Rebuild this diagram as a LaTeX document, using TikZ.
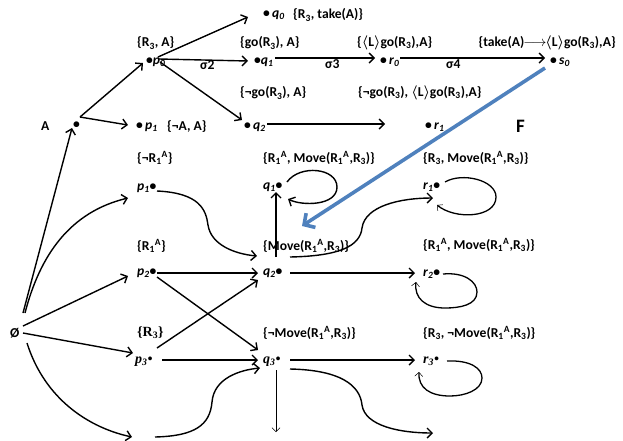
\documentclass[tikz,border=0pt]{standalone}
\usepackage{fontspec}
\setmainfont{Carlito}
\newfontfamily\serifb{Liberation Serif}
\usetikzlibrary{arrows.meta}
\newcommand\Lm{$\langle$L$\rangle$}
\newcommand\RA{R\textsubscript{1}\textsuperscript{A}}
\newcommand\Rt{R\textsubscript{3}}
\newcommand\sub[2]{\textit{#1}\textsubscript{\textit{#2}}}
\definecolor{ofblue}{RGB}{79,129,189}
\begin{document}
\begin{tikzpicture}[x=1pt,y=-1pt,
  txt/.style={anchor=west,inner sep=0pt,font=\fontsize{13.6}{16}\selectfont\bfseries\mathversion{bold}},
  arr/.style={line width=1.4pt,-{Straight Barb[length=5pt,width=10pt,line width=1.4pt]}},
  thinarr/.style={line width=0.5pt,-{Straight Barb[length=4pt,width=8pt,line width=0.5pt]}},
  loopthin/.style={line width=1.3pt,-{Straight Barb[length=4pt,width=8pt,line width=0.5pt]}},
  bluearr/.style={ofblue,line width=3.6pt,-{Straight Barb[length=8pt,width=17pt,line width=3.6pt]}}
]
\useasboundingbox (0,0) rectangle (623,440);

% ---------- top part ----------
\node[txt] (tq0) at (263,15) {•\,\sub{q}{0}};
\node[txt] (lq0) at (293,15) {\{\Rt, take(A)\}};
\node[txt] (lp0) at (137,43) {\{\Rt, A\}};
\node[txt] (tp0) at (146,62) {•\sub{p}{0}};
\node[txt] (sig2) at (200,65) {σ2};
\node[txt] (tq1) at (254,62) {•\sub{q}{1}};
\node[txt] (lq1) at (240,43) {\{go(\Rt), A\}};
\node[txt] (sig3) at (325,64) {σ3};
\node[txt] (tr0) at (380,62) {•\,\sub{r}{0}};
\node[txt] (lr0) at (357,43) {\{\Lm go(\Rt),A\}};
\node[txt] (sig4) at (446,64) {σ4};
\node[txt] (ts0) at (550,62) {•\,\sub{s}{0}};
\node[txt,anchor=east] (ls0) at (616,43) {\{take(A)\hspace{-1pt}$\mathversion{normal}\longrightarrow$\hspace{-1pt}\Lm go(\Rt),A\}};
\node[txt] (lq2) at (240,93) {\{¬go(\Rt), A\}};
\node[txt] (lr1) at (358,93) {\{¬go(\Rt), \Lm go(\Rt),A\}};
\node[txt] (tA) at (41,126) {A};
\node[txt] (tb) at (73,125) {•};
\node[txt] (tp1) at (136,127) {•\,\sub{p}{1}};
\node[txt] (lp1) at (167,127) {\{¬A, A\}};
\node[txt] (tq2) at (244,127) {•\,\sub{q}{2}};
\node[txt] (tr1) at (425,127) {•\,\sub{r}{1}};
\node[txt,font=\fontsize{19}{22}\selectfont\bfseries] (tF) at (516,126) {F};

% ---------- lower part ----------
\node[txt] (lP1) at (137,158) {\{¬\RA\}};
\node[txt] (lQ1) at (263,158) {\{\RA, Move(\RA,\Rt)\}};
\node[txt] (lR1) at (423,158) {\{\Rt, Move(\RA,\Rt)\}};
\node[txt] (P1) at (137,188) {\sub{p}{1}•};
\node[txt] (Q1) at (263,187) {\sub{q}{1}•};
\node[txt] (R1) at (423,187) {\sub{r}{1}•};
\node[txt] (lP2) at (137,246) {\{\RA\}};
\node[txt] (lQ2) at (263,246) {\{Move(\RA,\Rt)\}};
\node[txt] (lR2) at (423,245) {\{\RA, Move(\RA,\Rt)\}};
\node[txt] (P2) at (137,273) {\sub{p}{2}•};
\node[txt] (Q2) at (263,273) {\sub{q}{2}•};
\node[txt] (R2) at (423,274) {\sub{r}{2}•};
\node[txt] (E) at (10,333) {Ø};
\node[txt,font=\fontsize{14}{16}\selectfont\serifb\bfseries] (lP3) at (137,333) {\{R\textsubscript{3}\}};
\node[txt] (lQ3) at (263,333) {\{¬Move(\RA,\Rt)\}};
\node[txt] (lR3) at (423,333) {\{\Rt, ¬Move(\RA,\Rt)\}};
\node[txt,font=\fontsize{14}{16}\selectfont\serifb\bfseries\itshape] (P3) at (135,362) {p\textsubscript{3}•};
\node[txt,font=\fontsize{14}{16}\selectfont\serifb\bfseries\itshape] (Q3) at (263,362) {q\textsubscript{3}•};
\node[txt,font=\fontsize{14}{16}\selectfont\serifb\bfseries\itshape] (R3) at (423,361) {r\textsubscript{3}•};

% ---------- connector end points ----------
\coordinate (b-out) at (80,117);
\coordinate (p0-in) at (143,63);
\coordinate (p1-in) at (128,125);
\coordinate (p0-o1) at (158,57);
\coordinate (q0-in) at (248,17);
\coordinate (p0-o2) at (159,59);
\coordinate (q1-in) at (248,61);
\coordinate (p0-o3) at (160,62);
\coordinate (q2-in) at (242,120);
\coordinate (q1-out) at (275,58);
\coordinate (r0-in) at (375,58);
\coordinate (r0-out) at (400,58);
\coordinate (s0-in) at (545,58);
\coordinate (q2-out) at (267,124);
\coordinate (r1-to) at (385,124);
\coordinate (s0-b) at (545,68);
\coordinate (Q1-b) at (302,226);

\coordinate (E-1) at (23,313);
\coordinate (b-in) at (72,128);
\coordinate (E-2) at (25,313);
\coordinate (P1-in) at (128,198);
\coordinate (E-3) at (23,326);
\coordinate (P2-in) at (128,276);
\coordinate (E-4) at (23,333);
\coordinate (P3-in) at (133,353);
\coordinate (E-5) at (27,343);
\coordinate (B-in) at (132,437);
\coordinate (B-out) at (155,437);
\coordinate (P1-out) at (157,191);
\coordinate (Q2-inA) at (257,256);
\coordinate (P2-o1) at (157,273);
\coordinate (Q2-inB) at (258,273);
\coordinate (P2-o2) at (157,277);
\coordinate (Q3-inA) at (258,350);
\coordinate (P3-o1) at (157,348);
\coordinate (Q2-inC) at (258,280);
\coordinate (P3-o2) at (162,360);
\coordinate (Q3-inB) at (258,360);
\coordinate (Q3-inC) at (260,368);
\coordinate (Q2-up) at (276,257);
\coordinate (Q1-in) at (276,192);
\coordinate (Q2-o1) at (290,257);
\coordinate (R1-in) at (433,198);
\coordinate (Q2-o2) at (290,273);
\coordinate (R2-in) at (415,273);
\coordinate (Q3-o1) at (290,360);
\coordinate (R3-in) at (415,360);
\coordinate (Q3-o2) at (290,369);
\coordinate (C-in) at (433,433);
\coordinate (Q3-dn) at (276,370);
\coordinate (D-in) at (276,432);
\coordinate (Q1-l1) at (287,182);
\coordinate (Q1-l2) at (288,199);
\coordinate (R1-l1) at (445,182);
\coordinate (R1-l2) at (437,205);
\coordinate (R2-l1) at (443,274);
\coordinate (R2-l2) at (416,282);
\coordinate (R3-l1) at (447,361);
\coordinate (R3-l2) at (419,372);

% ---------- connectors, top ----------
\draw[arr] (b-out) -- (p0-in);
\draw[arr] (b-out) -- (p1-in);
\draw[arr] (p0-o1) -- (q0-in);
\draw[arr] (p0-o2) -- (q1-in);
\draw[arr] (p0-o3) -- (q2-in);
\draw[arr] (q1-out) -- (r0-in);
\draw[arr] (r0-out) -- (s0-in);
\draw[arr] (q2-out) -- (r1-to);
\draw[bluearr] (s0-b) -- (Q1-b);

% ---------- connectors, lower ----------
\draw[arr] (E-1) -- (b-in);
\draw[arr] (E-2) .. controls (40,255) and (70,212) .. (P1-in);
\draw[arr] (E-3) -- (P2-in);
\draw[arr] (E-4) -- (P3-in);
\draw[arr] (E-5) .. controls (45,400) and (90,428) .. (B-in);
\draw[arr] (P1-out) .. controls (200,193) and (206,210) .. (208,225)
                    .. controls (211,245) and (235,254) .. (Q2-inA);
\draw[arr] (P2-o1) -- (Q2-inB);
\draw[arr] (P2-o2) -- (Q3-inA);
\draw[arr] (P3-o1) -- (Q2-inC);
\draw[arr] (P3-o2) -- (Q3-inB);
\draw[arr] (B-out) .. controls (195,436) and (210,425) .. (212,402)
                   .. controls (214,378) and (240,370) .. (Q3-inC);
\draw[arr] (Q2-up) -- (Q1-in);
\draw[arr] (Q2-o1) .. controls (340,256) and (360,246) .. (362,228)
                   .. controls (365,206) and (400,198) .. (R1-in);
\draw[arr] (Q2-o2) -- (R2-in);
\draw[arr] (Q3-o1) -- (R3-in);
\draw[arr] (Q3-o2) .. controls (340,370) and (360,385) .. (362,405)
                   .. controls (365,426) and (400,433) .. (C-in);
\draw[thinarr] (Q3-dn) -- (D-in);

% ---------- self loops ----------
\draw[arr] (Q1-l1) .. controls (300,164) and (337,168) .. (337,187)
                   .. controls (337,206) and (302,206) .. (Q1-l2);
\draw[loopthin] (R1-l1) .. controls (462,172) and (496,180) .. (496,197)
                        .. controls (496,218) and (455,220) .. (R1-l2);
\draw[loopthin] (R2-l1) .. controls (465,272) and (477,282) .. (477,292)
                        .. controls (477,305) and (460,308) .. (445,308)
                        .. controls (425,308) and (414,298) .. (R2-l2);
\draw[loopthin] (R3-l1) .. controls (470,360) and (482,368) .. (482,378)
                        .. controls (482,390) and (465,396) .. (450,396)
                        .. controls (430,396) and (418,388) .. (R3-l2);
\end{tikzpicture}
\end{document}
